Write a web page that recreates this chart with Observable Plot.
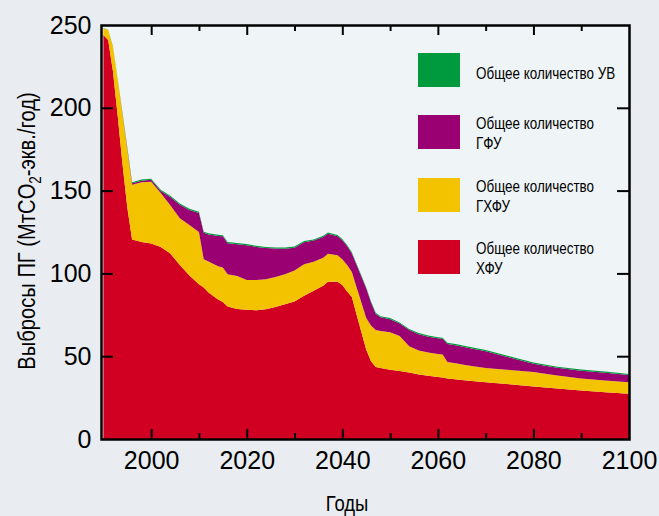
<!DOCTYPE html>
<html><head><meta charset="utf-8">
<script src="https://cdn.jsdelivr.net/npm/d3@7"></script>
<script src="https://cdn.jsdelivr.net/npm/@observablehq/plot@0.6"></script>
<style>
html,body{margin:0;padding:0;background:#e9edf1;}
#chart{width:659px;height:516px;position:relative;}
</style></head><body><div id="chart"></div>
<script>
// Years of the scenario
const years = [1990,1991,1992,1993,1994,1995,1996,1998,2000,2002,2004,2006,2008,2010,2011,2012,2014,2015,2016,2018,2020,2022,2024,2026,2028,2030,2032,2034,2036,2037,2039,2040,2041,2042,2043,2044,2045,2046,2047,2048,2050,2052,2054,2056,2058,2060,2061,2062,2064,2066,2070,2075,2080,2085,2090,2095,2100];
// ХФУ (bottom layer)
const cfc  = [244,241,222,195,166,140,120.5,119,118,116,112,105,98.8,93.5,91.5,88.5,84.2,82.7,80,78.5,78,77.7,78.3,79.7,81.3,83,86.5,89.5,92.5,95,95,93,89,85.7,75,64.5,54,47,43.5,42.8,41.8,41,40.2,39,38.2,37.5,37.2,36.5,36,35.3,34.2,33,31.7,30.5,29.3,28.3,27.3];
// ГХФУ
const hcfc = [4,6,15,22,30,35,33,36,37.3,32.5,29.2,28.3,30.4,31.5,17,18.7,20.1,20.8,19.5,19.9,18,18.3,18.2,18.1,18.2,18.8,19,17.5,17,16.8,16,15.5,16,15.1,16.5,18,19,21.5,22.3,22.4,22.7,21.2,15.8,14.5,14,13.8,13.8,10,9.6,9.3,8.7,8.6,8.7,7.9,7.3,7.1,7];
// ГФУ
const hfc  = [0,0,0,0,0.5,0.8,1,1,1.2,1.3,5,8.2,9.1,11.5,16,16.3,18.3,18.9,18.7,19.2,21,20,18.8,17.2,15.4,13.7,13.3,12.8,12.5,12.2,11.5,11.5,11.5,11.2,13.5,15.5,18,14,9.7,8.3,7.8,7.5,9.8,9.8,9.6,9.5,9.5,10.9,10.9,10.7,10.1,7.6,5.1,4.6,4.6,4.6,4.3];
// УВ
const hc   = [0.2,0.2,0.3,0.3,0.4,0.5,0.6,0.7,0.7,0.7,0.7,0.7,0.7,0.7,0.7,0.7,0.7,0.7,0.7,0.7,0.7,0.7,0.7,0.7,0.7,0.7,0.7,0.7,0.7,0.7,0.7,0.7,0.7,0.7,0.7,0.7,0.7,0.7,0.7,0.7,0.7,0.7,0.7,0.7,0.7,0.7,0.7,0.7,0.7,0.7,0.7,0.7,0.7,0.7,0.7,0.7,0.7];

const keys = ["ХФУ","ГХФУ","ГФУ","УВ"];
const colors = ["#d10022","#f4c300","#9b0073","#009a3e"];
const legendKeys = ["УВ","ГФУ","ГХФУ","ХФУ"];
const legendPrefix = "Общее количество";
const yTicks = [0,50,100,150,200,250];
const yInnerTicks = [50,100,150,200];
const xMajorTicks = [2000,2020,2040,2060,2080,2100];
const xMinorTicks = [2010,2030,2050,2070,2090];

const seriesArrays = [cfc, hcfc, hfc, hc];
const rows = [];
keys.forEach((k, s) => years.forEach((yr, i) => rows.push({year: yr, key: k, value: seriesArrays[s][i]})));

const W = 659, H = 516, mL = 101, mR = 30, mT = 25, mB = 77;
const innerW = W - mL - mR, innerH = H - mT - mB;
const font = "'Liberation Sans', Arial, sans-serif";
const squeeze = 0.84; // condensed lettering

const plot = Plot.plot({
  width: W, height: H,
  marginLeft: mL, marginRight: mR, marginTop: mT, marginBottom: mB,
  style: {background: "transparent", fontFamily: font, color: "#000"},
  x: {domain: [1989.5, 2100]},
  y: {domain: [0, 250]},
  color: {domain: keys, range: colors},
  marks: [
    Plot.frame({fill: "#eff5f7", stroke: null}),
    Plot.areaY(rows, {x: "year", y: "value", fill: "key", z: "key"}),
    Plot.ruleX(xMajorTicks.slice(0, -1), {insetTop: innerH - 10, stroke: "#000", strokeWidth: 2}),
    Plot.ruleX(xMinorTicks, {insetTop: innerH - 6, stroke: "#000", strokeWidth: 2}),
    Plot.ruleX(xMajorTicks.slice(0, -1), {insetBottom: innerH - 10, stroke: "#000", strokeWidth: 2}),
    Plot.ruleX(xMinorTicks, {insetBottom: innerH - 6, stroke: "#000", strokeWidth: 2}),
    Plot.ruleY(yInnerTicks, {insetRight: innerW - 12, stroke: "#000", strokeWidth: 2}),
    Plot.ruleY(yInnerTicks, {insetLeft: innerW - 12, stroke: "#000", strokeWidth: 2}),
    Plot.frame({stroke: "#000", strokeWidth: 2.5}),
    Plot.axisX({ticks: xMajorTicks, tickSize: 0, tickPadding: 12, tickFormat: d => String(d), fontSize: 25, label: null}),
    Plot.axisY({ticks: yTicks, tickSize: 0, tickPadding: 10, fontSize: 25, label: null})
  ]
});
document.getElementById("chart").appendChild(plot);

const svg = d3.select(plot);
function label(parent, x, y, size, anchor, rotate) {
  return parent.append("text")
    .attr("transform", `translate(${x},${y})${rotate ? " rotate(-90)" : ""} scale(${squeeze},1)`)
    .attr("text-anchor", anchor)
    .style("font-family", font).style("font-size", size + "px").attr("fill", "#000");
}
// Axis titles
const yt = label(svg, 35, mT + innerH / 2 - 1, 24, "middle", true);
yt.append("tspan").text("Выбросы ПГ (МтCO");
yt.append("tspan").attr("dy", 6).style("font-size", "16px").text("2");
yt.append("tspan").attr("dy", -6).text("-экв./год)");

label(svg, 347, 511, 22, "middle", false).text("Годы");

// Legend
const lg = svg.append("g");
const legendTops = [53, 115, 178, 240];
legendKeys.forEach((k, i) => {
  const top = legendTops[i];
  lg.append("rect").attr("x", 418).attr("y", top).attr("width", 42).attr("height", 34)
    .attr("fill", colors[keys.indexOf(k)]);
  if (k === "УВ") {
    label(lg, 476, top + 26, 16, "start").text(legendPrefix + " " + k);
  } else {
    label(lg, 476, top + 14, 16, "start").text(legendPrefix);
    label(lg, 476, top + 34, 16, "start").text(k);
  }
});
</script></body></html>
